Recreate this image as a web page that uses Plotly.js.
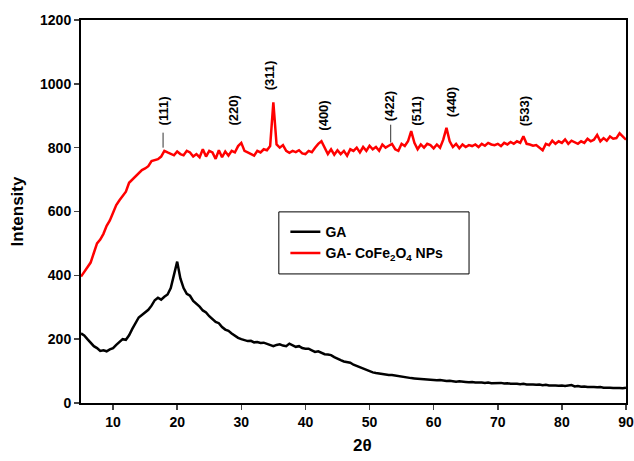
<!DOCTYPE html>
<html>
<head>
<meta charset="utf-8">
<script src="https://cdn.plot.ly/plotly-3.0.1.min.js"></script>
<style>html,body{margin:0;padding:0;background:#fff;}#chart{width:634px;height:461px;}</style>
</head>
<body>
<div id="chart"></div>
<script>
// 2-theta positions (degrees), step 0.5 from 5 to 90
var twoTheta = [5,5.5,6,6.5,7,7.5,8,8.5,9,9.5,10,10.5,11,11.5,12,12.5,13,13.5,14,14.5,15,15.5,16,16.5,17,17.5,18,18.5,19,19.5,20,20.5,21,21.5,22,22.5,23,23.5,24,24.5,25,25.5,26,26.5,27,27.5,28,28.5,29,29.5,30,30.5,31,31.5,32,32.5,33,33.5,34,34.5,35,35.5,36,36.5,37,37.5,38,38.5,39,39.5,40,40.5,41,41.5,42,42.5,43,43.5,44,44.5,45,45.5,46,46.5,47,47.5,48,48.5,49,49.5,50,50.5,51,51.5,52,52.5,53,53.5,54,54.5,55,55.5,56,56.5,57,57.5,58,58.5,59,59.5,60,60.5,61,61.5,62,62.5,63,63.5,64,64.5,65,65.5,66,66.5,67,67.5,68,68.5,69,69.5,70,70.5,71,71.5,72,72.5,73,73.5,74,74.5,75,75.5,76,76.5,77,77.5,78,78.5,79,79.5,80,80.5,81,81.5,82,82.5,83,83.5,84,84.5,85,85.5,86,86.5,87,87.5,88,88.5,89,89.5,90];

var gaIntensity = [218,212,200,190,178,172,163,165,162,168,172,182,192,200,198,212,232,248,268,276,284,292,305,322,330,324,333,340,360,400,443,390,360,342,336,320,312,302,290,284,272,262,254,250,238,230,226,218,210,204,200,196,194,195,190,191,188,189,186,183,178,182,184,180,178,186,182,176,178,172,170,170,165,160,162,158,153,152,150,144,138,134,130,128,126,120,116,110,106,102,99,96,94,92,92,90,88,88,86,84,82,80,80,78,77,76,75,74,74,73,72,71,72,70,69,70,68,67,68,66,66,65,66,64,65,64,63,64,62,63,62,63,61,62,60,61,60,59,60,58,59,58,57,58,56,57,55,56,55,54,55,53,54,56,52,53,51,52,50,51,50,49,50,48,49,48,47,48,47,46,48];

var gaCoFeIntensity = [396,410,425,440,470,500,512,530,555,572,596,620,635,648,662,690,700,712,722,730,735,742,758,760,764,772,790,785,780,776,788,780,776,790,785,772,780,770,795,772,790,785,765,792,770,788,775,790,785,805,815,790,785,780,775,790,785,795,792,805,942,810,800,808,790,784,790,786,792,782,780,790,786,800,812,820,800,780,795,778,792,780,790,775,795,790,800,785,802,790,806,795,802,790,810,800,806,812,795,790,812,805,820,852,815,795,810,800,812,808,798,810,800,825,862,820,802,812,798,810,802,808,805,810,802,812,806,815,810,808,812,805,815,810,818,812,820,815,836,812,810,806,808,800,792,812,808,822,812,820,815,826,812,822,818,812,820,815,828,820,825,840,820,830,822,835,828,830,845,835,825];

var seriesNames = ["GA", "GA- CoFe<sub>2</sub>O<sub>4</sub> NPs"];

// Miller-index peak labels
var peakLabels = ["(111)","(220)","(311)","(400)","(422)","(511)","(440)","(533)"];
var peakLabelX = [17.8,28.8,34.4,42.9,53.1,57.4,62.8,74.3];
var peakLabelY = [862,862,972,847,878,862,888,862];
// short marker lines under some labels
var markerX = [17.8,53.3];
var markerY0 = [800,816];
var markerY1 = [847,872];

var FONT = "Arial, 'Liberation Sans', sans-serif";

var traces = [
  {x: twoTheta, y: gaIntensity, name: seriesNames[0], legendgroup: "a", mode: "lines", line: {color: "#000000", width: 2.5}},
  {x: twoTheta, y: gaCoFeIntensity, name: seriesNames[1], legendgroup: "b", mode: "lines", line: {color: "#ff0000", width: 2.5}}
];

var annotations = peakLabels.map(function(t, i){
  return {x: peakLabelX[i], y: peakLabelY[i], xref: "x", yref: "y", text: "<b>"+t+"</b>",
    textangle: -90, showarrow: false, xanchor: "center", yanchor: "bottom",
    font: {family: FONT, size: 13, color: "#000"}};
});
annotations.push({x: 0.517, y: -0.11, xref: "paper", yref: "paper", text: "<b>2θ</b>",
  showarrow: false, xanchor: "center", yanchor: "middle", font: {family: FONT, size: 17, color: "#000"}});

var shapes = markerX.map(function(x, i){
  return {type: "line", xref: "x", yref: "y", x0: x, x1: x, y0: markerY0[i], y1: markerY1[i],
    line: {color: "#333", width: 1}};
});
// legend frame
shapes.push({type: "rect", xref: "paper", yref: "paper", x0: 0.363, x1: 0.712, y0: 0.337, y1: 0.499,
  line: {color: "#000", width: 1}, fillcolor: "rgba(0,0,0,0)", layer: "above"});

var layout = {
  width: 634, height: 461,
  margin: {l: 81, r: 8, t: 20, b: 58},
  paper_bgcolor: "#fff", plot_bgcolor: "#fff",
  font: {family: FONT, size: 14, color: "#000"},
  showlegend: true,
  legend: {x: 0.375, y: 0.488, xanchor: "left", yanchor: "top",
    borderwidth: 0, bgcolor: "rgba(0,0,0,0)", traceorder: "grouped", tracegroupgap: 0,
    font: {family: FONT, size: 14, color: "#000", weight: "bold"}},
  xaxis: {range: [5, 90], tick0: 0, dtick: 10, ticks: "outside", ticklen: 5, tickwidth: 1.5,
    showline: true, linewidth: 2, linecolor: "#000", mirror: true, showgrid: false, zeroline: false,
    tickfont: {family: FONT, size: 14, weight: "bold"}},
  yaxis: {range: [0, 1200], tick0: 0, dtick: 200, ticks: "outside", ticklen: 5, tickwidth: 1.5,
    showline: true, linewidth: 2, linecolor: "#000", mirror: true, showgrid: false, zeroline: false,
    tickfont: {family: FONT, size: 14, weight: "bold"},
    title: {text: "<b>Intensity</b>", font: {family: FONT, size: 17}, standoff: 12}},
  annotations: annotations,
  shapes: shapes
};

Plotly.newPlot("chart", traces, layout, {displayModeBar: false, staticPlot: true});
</script>
</body>
</html>
